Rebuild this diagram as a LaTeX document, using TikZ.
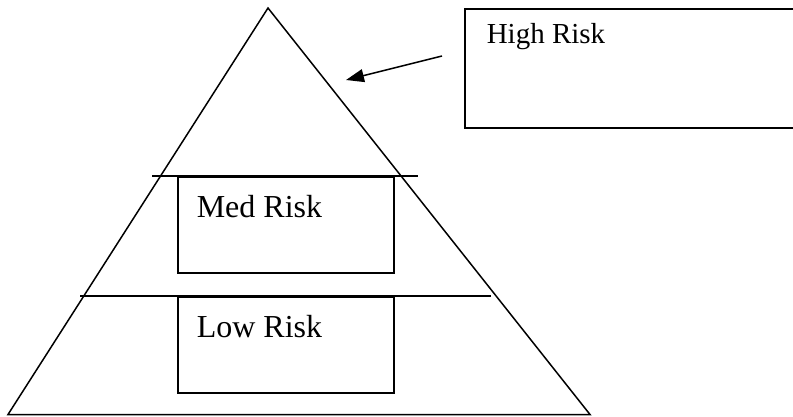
\documentclass[tikz,border=0pt]{standalone}
\usepackage{fontspec}
\setmainfont{Liberation Serif}
\usetikzlibrary{arrows.meta}
\begin{document}
\begin{tikzpicture}[x=1pt,y=-1pt,line width=1.5pt,
  lbl/.style={font=\fontsize{32}{36}\selectfont,anchor=base west,inner sep=0pt},
  riskbox/.style={draw,line width=1.5pt,anchor=north west,inner sep=0pt}]
\useasboundingbox (0,0) rectangle (793,416);
% pyramid
\coordinate (apex) at (268,8);
\coordinate (bl) at (8,414.5);
\coordinate (br) at (590,414.5);
\draw (bl) -- (apex) -- (br) -- cycle;
% horizontal dividers
\coordinate (m1) at (152,176);
\coordinate (m2) at (418,176);
\coordinate (l1) at (80,296);
\coordinate (l2) at (491,296);
\draw (m1) -- (m2);
\draw (l1) -- (l2);
% boxes
\node[riskbox,minimum width=216pt,minimum height=96pt] (medbox) at (177,176) {};
\node[riskbox,minimum width=216pt,minimum height=96pt] (lowbox) at (177,296) {};
\node[lbl] (medtxt) at (196,217) {Med Risk};
\node[lbl] (lowtxt) at (196,337) {Low Risk};
% high risk box (open to the right edge)
\coordinate (h1) at (795,9);
\coordinate (h2) at (465,9);
\coordinate (h3) at (465,128);
\coordinate (h4) at (795,128);
\draw (h1) -- (h2) -- (h3) -- (h4);
\node[lbl,font=\fontsize{29}{34}\selectfont] (hightxt) at (486,43) {High Risk};
% arrow
\coordinate (astart) at (442,56);
\coordinate (aend) at (346,80);
\draw[-{Triangle[length=18pt,width=13pt]}] (astart) -- (aend);
\end{tikzpicture}
\end{document}
